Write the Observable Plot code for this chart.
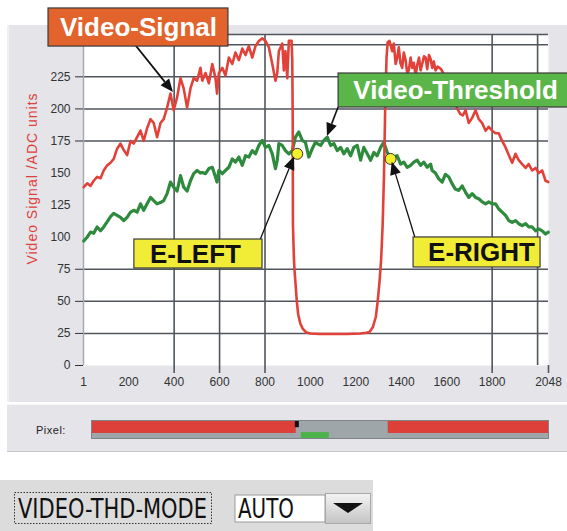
<!DOCTYPE html>
<html><head><meta charset="utf-8">
<script src="https://cdn.jsdelivr.net/npm/d3@7"></script>
<script src="https://cdn.jsdelivr.net/npm/@observablehq/plot@0.6"></script>
<style>
body{margin:0;background:#fff;width:567px;height:531px;position:relative;overflow:hidden;font-family:"Liberation Sans",Arial,sans-serif}
#panel{position:absolute;left:7px;top:25px;width:560px;height:377px;background:#e4e4e9;border-left:2px solid #f0f0f3;box-sizing:border-box}
#chart{position:absolute;left:0;top:0}
#pixpanel{position:absolute;left:7px;top:404px;width:560px;height:48px;background:#e4e4e9;border-top:1px solid #f6f6f8;border-bottom:1px solid #c6c6cc;box-sizing:border-box}
#pixlabel{position:absolute;left:36px;top:424px;font-size:11px;color:#222;letter-spacing:0.5px}
#pix{position:absolute;left:0;top:404px}
#mode{position:absolute;left:0;top:480px}
</style></head><body>
<div id="panel"></div>
<div id="chart"></div>
<div id="pixpanel"></div>
<div id="pixlabel">Pixel:</div>
<div id="pix"></div>
<svg id="mode" width="373" height="51">
  <defs><linearGradient id="btn" x1="0" y1="0" x2="0" y2="1"><stop offset="0" stop-color="#f4f4f4"/><stop offset="1" stop-color="#c4c4c4"/></linearGradient></defs>
  <rect width="373" height="51" fill="#dcdcdc"/>
  <rect x="14.5" y="12.5" width="197" height="31" fill="none" stroke="#333" stroke-dasharray="1.5,1.5"/>
  <g transform="translate(18,38) scale(1,1.3)">
    <text x="0" y="0" font-size="20.5" textLength="189" lengthAdjust="spacingAndGlyphs" font-family="DejaVu Sans" fill="#111">VIDEO-THD-MODE</text>
  </g>
  <rect x="235" y="15" width="90" height="27" fill="#fff" stroke="#9a9a9a"/>
  <g transform="translate(238,38) scale(1,1.3)">
    <text x="0" y="0" font-size="20.5" textLength="56" lengthAdjust="spacingAndGlyphs" font-family="DejaVu Sans" fill="#111">AUTO</text>
  </g>
  <rect x="325.5" y="13.5" width="45" height="30" fill="url(#btn)" stroke="#a8a8a8"/>
  <path d="M333,23 L363,23 L348,33 Z" fill="#111"/>
</svg>
<script>
// ---- data (pixel index 1..2048, ADC units) ----
const signalX = [2,17,32,46,61,76,90,105,120,134,149,164,178,193,208,222,237,252,266,281,296,310,325,340,354,369,384,398,413,428,442,457,472,486,501,516,524,538,553,568,582,589,597,612,626,641,656,670,685,700,714,729,744,758,773,788,802,817,832,846,854,861,876,883,890,898,905,917,920,922,923,927,930,936,940,946,955,965,980,1000,1040,1100,1160,1220,1245,1260,1275,1288,1296,1304,1311,1318,1324,1329,1335,1340,1348,1360,1367,1375,1382,1389,1396,1404,1411,1419,1426,1433,1441,1448,1455,1463,1470,1478,1485,1492,1500,1507,1514,1522,1529,1536,1543,1551,1560,1575,1590,1604,1616,1630,1640,1650,1660,1671,1683,1697,1712,1727,1741,1756,1771,1785,1800,1815,1829,1844,1859,1873,1888,1903,1917,1932,1947,1961,1976,1991,2005,2020,2035,2047];
const signalADC = [139,142,140,144,147,146,152,156,158,161,169,173,168,164,175,173,178,183,175,185,192,189,178,189,192,201,212,199,209,224,216,201,216,224,222,232,222,228,220,235,224,212,228,232,226,240,235,244,238,247,242,249,240,249,253,255,253,248,235,222,228,245,251,230,245,224,253,253,238,192,110,85,74,60,50,40,33,29,26,25,24.5,24.5,24.5,25,25.5,26,30,38,50,65,82,110,150,200,240,252,253,245,251,235,240,248,236,232,244,238,228,230,240,232,236,226,234,240,230,235,241,240,231,242,239,232,237,230,233,231,226,222,214,208,203,199,196,195,199,189,193,199,192,189,183,186,183,181,181,175,170,164,158,165,160,157,154,157,152,154,150,152,144,143];
const thresholdX = [2,17,32,46,61,76,90,105,120,134,149,164,178,193,208,222,237,252,266,281,296,310,325,340,354,369,384,398,413,428,442,457,472,486,501,516,524,538,553,568,582,589,597,612,626,641,656,670,685,700,714,729,744,758,773,788,802,817,832,846,854,861,876,890,905,920,934,949,964,978,993,1008,1022,1030,1045,1059,1074,1089,1103,1118,1133,1147,1162,1177,1191,1206,1221,1235,1250,1265,1279,1294,1309,1323,1338,1353,1367,1382,1397,1411,1426,1441,1455,1470,1485,1499,1514,1529,1536,1550,1565,1580,1594,1609,1624,1638,1653,1668,1683,1697,1712,1727,1741,1756,1771,1785,1800,1815,1829,1844,1859,1873,1888,1903,1917,1932,1947,1961,1976,1991,2005,2020,2035,2047];
const thresholdADC = [97,100,104,103,108,105,108,112,116,118.5,117,115.5,113,115.5,119.5,121,119.5,126,121,126,131,128.5,126,127,128.5,134,143,139,136,148,139,136,144,149.5,152,150,150.5,149.5,153.5,154.5,147,143,152,149.5,152,154.5,161,158.5,162.5,156,163.5,162.5,167.5,165,171.5,175.5,170,171.5,165,153.5,160,173,171.5,167.5,165,167.5,178,182,175.5,174,162.5,169,174,173,171.5,175.5,178,171.5,173,167.5,170,165,169,163.5,170,171.5,160,170,165,160,166,163.5,170,174,166,162.5,162.5,163.5,157,158.5,154.5,156,158.5,160,156,158.5,154.5,157,152,150,145.5,143,149,147,141.5,137.5,136.5,140,135,131,134,131,130,127.5,126,127.5,126,126,122,119.5,117,113,111.5,113,110.5,109,110.5,108,108,105,106.5,105,102.5,104];
const edgeNames = ["E-LEFT", "E-RIGHT"];
const edgeX = [942, 1353];
const edgeADC = [165, 161];
const xTickLabels = [1,200,400,600,800,1000,1200,1400,1600,1800,2048];
const yTickLabels = [0,25,50,75,100,125,150,175,200,225];
const yTickMarks = [0,25,50,75,175,200,225];
const xTickMarks = [400,600,800,1800,2048];
const gridX = [400,600,800,1800,2000];
const gridY = [25,50,75,175,200,225,250];
const yTitle = "Video Signal /ADC units";
// pixel bar states
const segFrom = [1, 918, 1330];
const segTo = [918, 1330, 2048];
const segAbove = [true, false, true];
const markerFrom = [914];
const markerTo = [932];
const centerFrom = [941];
const centerTo = [1066];

// annotations (in data coordinates)
const annotations = [
  {label:"Video-Signal", x1:-153, x2:639, y1:248.6, y2:278.3, tx:243, ty:263, fill:"#e2632b", color:"#fff"},
  {label:"Video-Threshold", x1:1124, x2:2160, y1:201.1, y2:227.6, tx:1639, ty:214, fill:"#5bb649", color:"#fff"},
  {label:"E-LEFT", x1:225, x2:789, y1:75.6, y2:98.2, tx:494, ty:86.5, fill:"#f1ec36", color:"#111"},
  {label:"E-RIGHT", x1:1454, x2:2013, y1:76.4, y2:99.8, tx:1753, ty:88, fill:"#f1ec36", color:"#111"}
];
const arrows = [
  {x1:217, y1:252.5, x2:397, y2:212.8, w:1.8},
  {x1:1124, y1:201.1, x2:1075, y2:178.5, w:1.6},
  {x1:780, y1:97.4, x2:930, y2:162.5, w:1.3},
  {x1:1463, y1:99, x2:1360, y2:158.5, w:1.3}
];

const signal = signalX.map((x, i) => ({x, y: signalADC[i]}));
const threshold = thresholdX.map((x, i) => ({x, y: thresholdADC[i]}));
const edges = edgeNames.map((n, i) => ({name: n, x: edgeX[i], y: edgeADC[i]}));
const segments = segFrom.map((f, i) => ({from: f, to: segTo[i], above: segAbove[i]}));

const GRID = "#4f565e";
const FONT = "Liberation Sans, Arial, sans-serif";

function arrowMark(index, scales) {
  const g = d3.create("svg:g");
  for (const a of arrows) {
    const x1 = scales.x(a.x1), y1 = scales.y(a.y1), x2 = scales.x(a.x2), y2 = scales.y(a.y2);
    const ang = Math.atan2(y2 - y1, x2 - x1), L = 13, W = 5.5;
    const bx = x2 - L * Math.cos(ang), by = y2 - L * Math.sin(ang);
    g.append("line").attr("x1", x1).attr("y1", y1).attr("x2", bx).attr("y2", by)
      .attr("stroke", "#111").attr("stroke-width", a.w);
    g.append("path").attr("d", `M${x2},${y2}L${bx - W * Math.sin(ang)},${by + W * Math.cos(ang)}L${bx + W * Math.sin(ang)},${by - W * Math.cos(ang)}Z`)
      .attr("fill", "#111");
  }
  return g.node();
}

const chart = Plot.plot({
  width: 567, height: 402,
  marginLeft: 83, marginRight: 19, marginTop: 34, marginBottom: 37,
  style: {background: "transparent", fontFamily: FONT, overflow: "visible"},
  x: {domain: [1, 2048], axis: null},
  y: {domain: [0, 258], axis: null},
  marks: [
    Plot.frame({fill: "white", stroke: "none"}),
    Plot.ruleY(gridY, {stroke: GRID, strokeWidth: 1.5}),
    Plot.ruleY([258], {stroke: GRID, strokeWidth: 1.5}),
    Plot.ruleX(gridX, {stroke: GRID, strokeWidth: 1.6}),
    Plot.ruleX([1], {stroke: "#a8aab2", strokeWidth: 1.5}),
    Plot.axisY({ticks: yTickMarks, tickSize: 8, tickFormat: () => "", stroke: "#333", label: null}),
    Plot.axisY({ticks: yTickLabels, tickSize: 0, tickPadding: 13, fontSize: 12, fill: "#333", label: null, tickFormat: d => String(d)}),
    Plot.axisX({ticks: xTickMarks, tickSize: 8, tickFormat: () => "", stroke: GRID, strokeWidth: 1.6, label: null}),
    Plot.axisX({ticks: xTickLabels, tickSize: 0, tickPadding: 12, fontSize: 12, fill: "#333", label: null, tickFormat: d => String(d)}),
    Plot.text([yTitle], {frameAnchor: "left", textAnchor: "middle", rotate: -90, dx: -51, dy: -21.5, text: d => d, fill: "#e0403a", fontSize: 14}),
    Plot.line(threshold, {x: "x", y: "y", stroke: "#2e8a3c", strokeWidth: 3.2}),
    Plot.line(signal, {x: "x", y: "y", stroke: "#e2413a", strokeWidth: 2.6}),
    Plot.dot(edges, {x: "x", y: "y", r: 5.5, fill: "#f4ef2c", stroke: "#333", strokeWidth: 1}),
    arrowMark,
    Plot.rect(annotations, {x1: "x1", x2: "x2", y1: "y1", y2: "y2", fill: "fill", stroke: "#3a3a3a", strokeWidth: 1.2}),
    Plot.text(annotations, {x: "tx", y: "ty", text: "label", fill: "color", fontSize: 26, fontWeight: "bold", fontFamily: FONT})
  ]
});
document.getElementById("chart").append(chart);
d3.select(chart).selectAll("text").filter(function() { return this.textContent === yTitle; })
  .attr("letter-spacing", "1px");

const pix = Plot.plot({
  width: 567, height: 50,
  marginLeft: 91, marginRight: 19, marginTop: 16, marginBottom: 16,
  style: {background: "transparent"},
  x: {domain: [1, 2048], axis: null},
  y: {domain: [0, 1], axis: null},
  marks: [
    Plot.frame({fill: "#9ea6a9", stroke: "none"}),
    Plot.rect(segments.filter(d => d.above), {x1: "from", x2: "to", y1: 0.28, y2: 1, fill: "#dc4038"}),
    Plot.rect(markerFrom.map((f, i) => ({f, t: markerTo[i]})), {x1: "f", x2: "t", y1: 0.6, y2: 1, fill: "#111"}),
    Plot.rect(centerFrom.map((f, i) => ({f, t: centerTo[i]})), {x1: "f", x2: "t", y1: 0, y2: 0.33, fill: "#4cb34a"}),
    Plot.frame({stroke: "#7d8588"})
  ]
});
document.getElementById("pix").append(pix);
</script>
</body></html>
